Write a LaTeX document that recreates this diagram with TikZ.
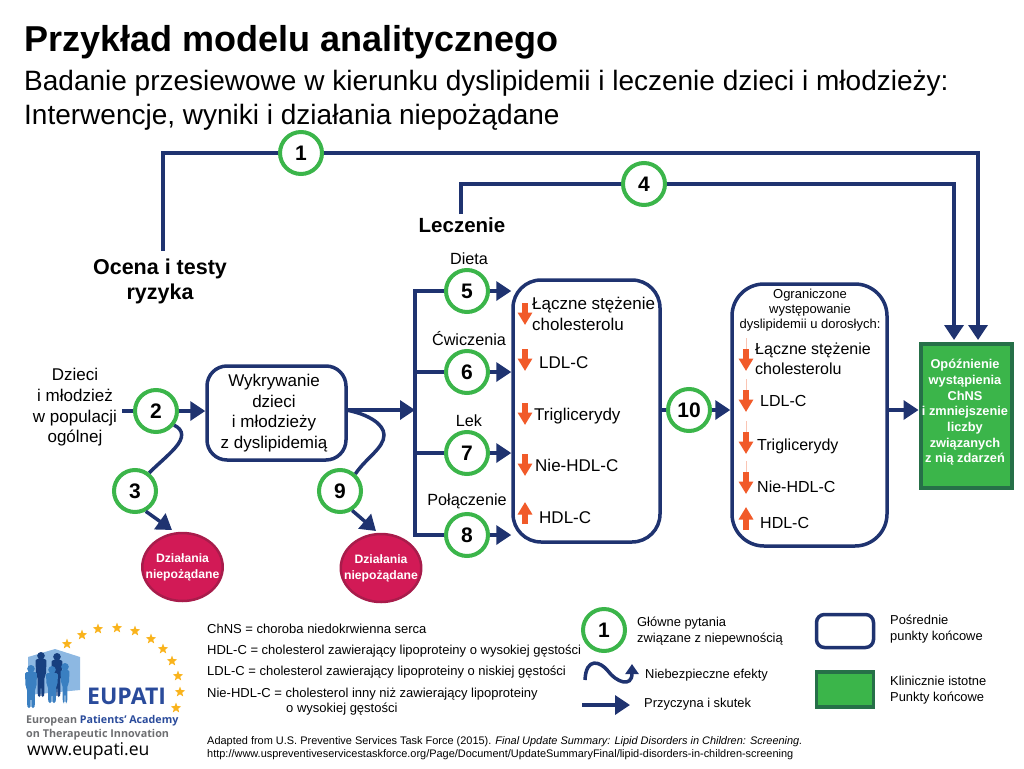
\documentclass[tikz,border=0pt]{standalone}
\usepackage{fontspec}
\setmainfont{Liberation Sans}
\newfontfamily\logofont{Open Sans}
\usetikzlibrary{arrows.meta,positioning,shapes.geometric}
\definecolor{navy}{HTML}{1F3370}
\definecolor{qgreen}{HTML}{3BB54A}
\definecolor{darkgreen}{HTML}{267048}
\definecolor{harm}{HTML}{D21A56}
\definecolor{harmedge}{HTML}{A81C4B}
\definecolor{lipid}{HTML}{F15A29}
\definecolor{starcol}{HTML}{F9B31C}
\definecolor{logoblue}{HTML}{2A4B9B}
\definecolor{logomid}{HTML}{3A7FC1}
\definecolor{logodark}{HTML}{173F7F}
\definecolor{logolight}{HTML}{8DB8E2}
\definecolor{logogrey}{HTML}{6D6E71}
\tikzset{
  question/.style={circle,draw=qgreen,line width=4pt,fill=white,minimum size=42pt,inner sep=0pt,font=\fontsize{21}{21}\selectfont\bfseries},
  flow/.style={navy,line width=3.5pt,-{Triangle[length=15pt,width=19pt]}},
  plainflow/.style={navy,line width=3.5pt},
  midbox/.style={draw=navy,line width=3.5pt,fill=white,inner sep=0pt},
  harmnode/.style={ellipse,draw=harmedge,line width=2.5pt,fill=harm,inner xsep=-8.5pt,inner ysep=0pt,text=white,align=center,font=\fontsize{12.2}{16}\selectfont\bfseries},
  lbl/.style={inner sep=0pt,anchor=base west,font=\fontsize{17}{20}\selectfont},
  clbl/.style={inner sep=0pt,anchor=base,font=\fontsize{16.2}{20}\selectfont},
  mlbl/.style={inner sep=0pt,anchor=center,align=center,font=\fontsize{17}{20.7}\selectfont},
  small/.style={inner sep=0pt,anchor=base west,font=\fontsize{12.9}{15}\selectfont},
  gloss/.style={small,font=\fontsize{13}{15}\selectfont},
  tiny/.style={inner sep=0pt,anchor=base west,font=\fontsize{10.95}{13}\selectfont},
  lipidflow/.style={lipid,line width=6.5pt,-{Triangle[length=12.5pt,width=14pt]}},
  lipidfaint/.style={lipid,line width=.6pt,opacity=.35},
  eustar/.style={star,star points=5,star point ratio=2.4,fill=starcol,inner sep=0pt,minimum size=11pt}
}
\newcommand{\logoperson}[5]{% x, top y, height, half width, colour
  \fill[#5] (#1,#2+3.8) circle (3.8);
  \fill[#5,rounded corners=1.5pt] (#1-#4,#2+7) -- (#1+#4,#2+7) -- (#1+#4-.5,#2+#3*0.5) -- (#1+#4-2,#2+#3*0.55) -- (#1+#4-2.3,#2+#3) -- (#1+.5,#2+#3) -- (#1,#2+#3*0.62) -- (#1-.5,#2+#3) -- (#1-#4+2.3,#2+#3) -- (#1-#4+2,#2+#3*0.55) -- (#1-#4+.5,#2+#3*0.5) -- cycle;
}
\begin{document}
\begin{tikzpicture}[x=1pt,y=-1pt]
  \useasboundingbox (0,0) rectangle (1024,768);

  % headings
  \node[inner sep=0pt,anchor=base west,font=\fontsize{36}{36}\selectfont\bfseries] (title) at (24,52) {Przykład modelu analitycznego};
  \node[inner sep=0pt,anchor=base west,font=\fontsize{28}{28}\selectfont] (sub1) at (24,90) {Badanie przesiewowe w kierunku dyslipidemii i leczenie dzieci i młodzieży:};
  \node[inner sep=0pt,anchor=base west,font=\fontsize{28}{28}\selectfont] (sub2) at (24,124) {Interwencje, wyniki i działania niepożądane};

  % main nodes
  \node[mlbl,outer ysep=8pt,font=\fontsize{21.5}{25}\selectfont\bfseries] (ocena) at (160,281.5) {Ocena i testy\\ryzyka};
  \node[clbl,outer ysep=3pt,font=\fontsize{20.5}{25}\selectfont\bfseries] (leczenie) at (462,232) {Leczenie};
  \node[mlbl] (dzieci) at (75,407.5) {Dzieci\\i młodzież\\w populacji\\ogólnej};
  \node[midbox,rounded corners=20pt,minimum width=139pt,minimum height=94pt] (wyk) at (276.5,413) {};
  \node[mlbl] (wyktext) at (274,413) {Wykrywanie\\dzieci\\i młodzieży\\z dyslipidemią};
  \node[midbox,rounded corners=28pt,minimum width=147pt,minimum height=262pt] (boxa) at (586.5,411) {};
  \node[midbox,rounded corners=32pt,minimum width=155pt,minimum height=262pt] (boxb) at (809.5,415) {};
  \node[rectangle,draw=darkgreen,line width=4pt,fill=qgreen,minimum width=91pt,minimum height=144pt] (clin) at (966,415.5) {};
  \node[mlbl,text=white,font=\fontsize{12.8}{15.7}\selectfont\bfseries] (clintext) at (965,412.5) {Opóźnienie\\wystąpienia\\ChNS\\i zmniejszenie\\liczby\\związanych\\z nią zdarzeń};
  \node[harmnode,minimum width=79pt,minimum height=68pt] (harma) at (182.5,567) {Działania\\niepożądane};
  \node[harmnode,minimum width=79pt,minimum height=68pt] (harmb) at (381,568) {Działania\\niepożądane};

  % key questions
  \foreach \name/\x/\y/\num in {q1/301/153/1,q4/644/184/4,q2/156/411/2,q3/135/491/3,q5/467/291/5,q6/467/372/6,q7/467/453/7,q8/467/535/8,q9/340/491/9,q10/689/410/10}
    \node[question] (\name) at (\x,\y) {\num};

  % treatments
  \node[clbl] (dieta) at (469,264) {Dieta};
  \node[clbl] (cwicz) at (469,345) {Ćwiczenia};
  \node[clbl] (lek) at (469,426) {Lek};
  \node[clbl] (polacz) at (467,505) {Połączenie};

  % first box
  \node[lbl] (a1) at (532,309) {Łączne stężenie};
  \node[lbl] (a2) at (532,330) {cholesterolu};
  \node[lbl] (a3) at (539,368) {LDL-C};
  \node[lbl] (a4) at (534,420) {Triglicerydy};
  \node[lbl] (a5) at (535,471) {Nie-HDL-C};
  \node[lbl] (a6) at (539,523) {HDL-C};
  \foreach \name/\y in {ad1/303,ad2/349,ad3/403,ad4/454}{
    \coordinate (\name) at (525,\y);
    \draw[lipidflow] (\name) -- ++(0,22);
  }
  \coordinate (au1) at (525,524);
  \draw[lipidflow] (au1) -- ++(0,-22);

  % second box
  \node[mlbl,font=\fontsize{13}{15}\selectfont] (btitle) at (810,310) {Ograniczone\\występowanie\\dyslipidemii u dorosłych:};
  \node[lbl,font=\fontsize{16}{20}\selectfont] (b1) at (755,354) {Łączne stężenie};
  \node[lbl,font=\fontsize{16}{20}\selectfont] (b2) at (755,374) {cholesterolu};
  \node[lbl,font=\fontsize{16}{20}\selectfont] (b3) at (760,406) {LDL-C};
  \node[lbl,font=\fontsize{16}{20}\selectfont] (b4) at (757,450) {Triglicerydy};
  \node[lbl,font=\fontsize{16}{20}\selectfont] (b5) at (757,492) {Nie-HDL-C};
  \node[lbl,font=\fontsize{16}{20}\selectfont] (b6) at (760,528) {HDL-C};
  \foreach \name/\y in {bd1/349,bd2/390,bd3/432,bd4/472}{
    \coordinate (\name) at (746,\y);
    \draw[lipidfaint] (\name) -- ++(0,-11);
    \draw[lipidflow] (\name) -- ++(0,22);
  }
  \coordinate (bu1) at (746,530);
  \draw[lipidflow] (bu1) -- ++(0,-23);

  % connectors
  \coordinate (top1) at (163,153);
  \coordinate (top4) at (461,184);
  \coordinate (end4) at (954,340);
  \coordinate (end1) at (978,340);
  \coordinate (bus) at (415,410);
  \coordinate (bustop) at (415,291);
  \coordinate (busbot) at (415,535);
  \coordinate (wykout) at (346,410);
  \coordinate (dzout) at (122,411);
  \draw[plainflow] (ocena.north -| top1) -- (top1) -- (q1);
  \draw[flow] (q1) -- (q1 -| end1) -- (end1);
  \draw[plainflow] (leczenie.north -| top4) -- (top4) -- (q4);
  \draw[flow] (q4) -- (q4 -| end4) -- (end4);
  \draw[plainflow] (dzout) -- (q2);
  \draw[flow] (q2) -- (q2 -| wyk.west);
  \draw[flow] (wykout) -- (bus);
  \draw[plainflow,line cap=rect] (bustop) -- (busbot);
  \draw[plainflow] (bustop) -- (q5);
  \draw[plainflow] (q6 -| bus) -- (q6);
  \draw[plainflow] (q7 -| bus) -- (q7);
  \draw[plainflow] (busbot) -- (q8);
  \foreach \name in {q5,q6,q7,q8}
    \draw[flow] (\name) -- (\name -| boxa.west);
  \draw[plainflow] (q10 -| boxa.east) -- (q10);
  \draw[flow] (q10) -- (q10 -| boxb.west);
  \draw[flow] (q10 -| boxb.east) -- (q10 -| clin.west);
  \draw[plainflow] (q2.-38) .. controls (184,430) and (184,438) .. (175,448) .. controls (168,456) and (158,464) .. (q3.52);
  \draw[flow] (q3.-62) -- (172,530);
  \draw[plainflow] (wykout) .. controls (368,414) and (384,424) .. (384,435) .. controls (384,448) and (366,458) .. (q9.48);
  \draw[flow] (q9.-58) -- (376,531);

  % glossary
  \node[gloss] (g1) at (207,633) {ChNS = choroba niedokrwienna serca};
  \node[gloss] (g2) at (207,654) {HDL-C = cholesterol zawierający lipoproteiny o wysokiej gęstości};
  \node[gloss] (g3) at (207,675) {LDL-C = cholesterol zawierający lipoproteiny o niskiej gęstości};
  \node[gloss] (g4) at (207,697) {Nie-HDL-C = cholesterol inny niż zawierający lipoproteiny};
  \node[gloss] (g5) at (286,712) {o wysokiej gęstości};
  \node[tiny] (src1) at (207,744) {Adapted from U.S. Preventive Services Task Force (2015). \textit{Final Update Summary: Lipid Disorders in Children: Screening.}};
  \node[tiny] (src2) at (207,757) {http://www.uspreventiveservicestaskforce.org/Page/Document/UpdateSummaryFinal/lipid-disorders-in-children-screening};

  % legend
  \node[question] (leg1) at (604,630) {1};
  \node[small] (leg1a) at (637,626) {Główne pytania};
  \node[small] (leg1b) at (637,642) {związane z niepewnością};
  \coordinate (wavea) at (585,680);
  \coordinate (waveb) at (632,664);
  \draw[navy,line width=3.5pt,-{Triangle[length=10pt,width=13pt]}] (wavea) .. controls (586,657) and (600,661) .. (608,671) .. controls (616,682) and (632,688) .. (waveb);
  \node[small] (leg2) at (645,678) {Niebezpieczne efekty};
  \coordinate (flowa) at (582,705);
  \coordinate (flowb) at (630,705);
  \draw[flow] (flowa) -- (flowb);
  \node[small] (leg3) at (644,707) {Przyczyna i skutek};
  \node[midbox,rounded corners=8pt,line width=3.5pt,minimum width=57pt,minimum height=33pt] (leg4) at (845,631) {};
  \node[small] (leg4a) at (890,624) {Pośrednie};
  \node[small] (leg4b) at (890,640) {punkty końcowe};
  \node[rectangle,draw=darkgreen,line width=3.5pt,fill=qgreen,minimum width=57pt,minimum height=35pt] (leg5) at (845,689.5) {};
  \node[small] (leg5a) at (890,685) {Klinicznie istotne};
  \node[small] (leg5b) at (890,701) {Punkty końcowe};

  % logo
  \fill[logolight] (28,657) -- (55,649) -- (80,657) -- (80,690) -- (28,695) -- cycle;
  \logoperson{41}{652}{45}{5.5}{logodark}
  \logoperson{57}{653}{44}{5.5}{logodark}
  \logoperson{31}{665}{43}{6}{logomid}
  \logoperson{52}{666}{37}{6}{logomid}
  \logoperson{65}{663}{40}{4.5}{logomid}
  \foreach \name/\x/\y in {s1/67/644,s2/82/635,s3/98/629,s4/117/628,s5/135/631,s6/151/639,s7/163/649,s8/172/661,s9/178/676,s10/180/692,s11/176/708}
    \node[eustar] (\name) at (\x,\y) {};
  \node[inner sep=0pt,anchor=base west,text=logoblue,font=\logofont\fontsize{23}{24}\selectfont\bfseries] (eupati) at (87,704) {EUPATI};
  \node[inner sep=0pt,anchor=base west,text=logogrey,font=\logofont\fontsize{10.7}{12}\selectfont\bfseries] (academy) at (26,723) {European \textcolor{logoblue}{Patients’ Academy}};
  \node[inner sep=0pt,anchor=base west,text=logogrey,font=\logofont\fontsize{10.8}{12}\selectfont\bfseries] (therapy) at (26,737) {on Therapeutic Innovation};
  \node[inner sep=0pt,anchor=base west,font=\logofont\fontsize{17.6}{18}\selectfont] (www) at (27,755) {www.eupati.eu};
\end{tikzpicture}
\end{document}
